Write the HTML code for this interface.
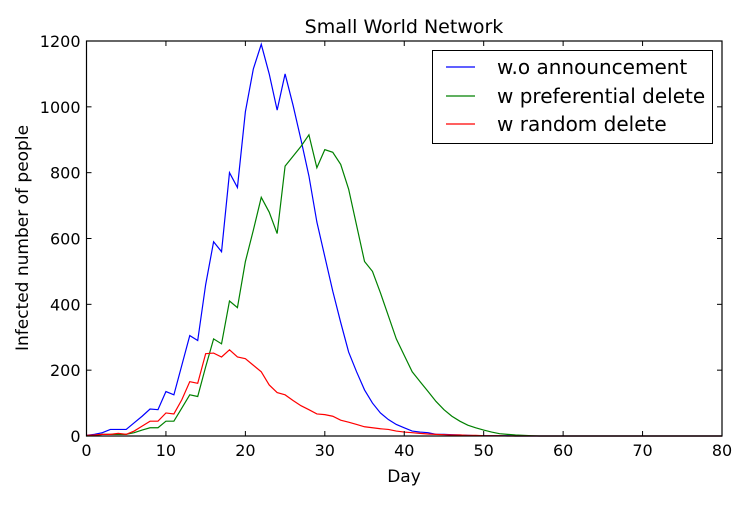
<!DOCTYPE html>
<html><head><meta charset="utf-8"><style>
html,body{margin:0;padding:0;background:#fff;}
svg text{font-family:"DejaVu Sans","Liberation Sans",sans-serif;fill:#000;}
</style></head><body>
<svg id="chart" width="750" height="500" xmlns="http://www.w3.org/2000/svg">
<rect width="750" height="500" fill="#fff"/>
<text x="404" y="33" font-size="19" text-anchor="middle">Small World Network</text>
<g id="plot"></g>
<text x="404" y="482" font-size="17" text-anchor="middle">Day</text>
<text transform="translate(28,238) rotate(-90)" font-size="17" text-anchor="middle">Infected number of people</text>
<g>
<rect x="432.5" y="50.5" width="280" height="93" fill="#fff" stroke="#000" stroke-width="1"/>
<g><line x1="446" y1="67" x2="475" y2="67" stroke="#0000ff" stroke-width="1.2"/><text x="497" y="74" font-size="20">w.o announcement</text></g>
<g><line x1="446" y1="96" x2="475" y2="96" stroke="#008000" stroke-width="1.2"/><text x="497" y="103" font-size="20">w preferential delete</text></g>
<g><line x1="446" y1="124" x2="475" y2="124" stroke="#ff0000" stroke-width="1.2"/><text x="497" y="131" font-size="20">w random delete</text></g>
</g>
</svg>
<script>
const xTicks=[0,10,20,30,40,50,60,70,80];
const yTicks=[0,200,400,600,800,1000,1200];
const blue=[2,5,10,20,20,20,40,60,82,80,135,125,215,305,290,460,590,560,800,755,985,1115,1190,1100,990,1100,1005,900,790,650,545,440,345,255,195,140,100,70,50,35,25,15,12,10,5,5,4,3,2,1,1,1,1,1,0,0,0,0,0,0,0,0,0,0,0,0,0,0,0,0,0,0,0,0,0,0,0,0,0,0,0];
const green=[0,2,5,5,5,5,10,18,25,25,45,45,85,125,120,210,295,280,410,390,530,625,725,680,615,820,850,880,915,815,870,862,825,750,640,530,500,435,365,295,245,195,165,135,105,80,60,45,33,25,18,12,7,5,3,2,1,0,0,0,0,0,0,0,0,0,0,0,0,0,0,0,0,0,0,0,0,0,0,0,0];
const red=[2,3,5,5,8,5,15,30,45,45,70,67,110,165,160,250,252,240,262,240,235,215,195,155,132,125,108,92,80,67,65,60,48,42,35,28,25,22,20,15,12,10,8,6,5,4,3,3,2,2,1,1,1,0,0,0,0,0,0,0,0,0,0,0,0,0,0,0,0,0,0,0,0,0,0,0,0,0,0,0,0];
const L=86.5,R=722,T=41,B=436;
const sx=v=>L+(v-0)/(80-0)*(R-L);
const sy=v=>B-(v-0)/(1200-0)*(B-T);
const NS='http://www.w3.org/2000/svg';
const g=document.getElementById('plot');
function mk(t,a){const e=document.createElementNS(NS,t);for(const k in a)e.setAttribute(k,a[k]);g.appendChild(e);return e;}
function series(d,c,n){
 const pts=d.map((v,i)=>sx(i).toFixed(2)+','+sy(v).toFixed(2)).join(' ');
 const p=mk('polyline',{points:pts,fill:'none',stroke:c,'stroke-width':1.2});
 
 
}
series(blue,'#0000ff','series-wo-announcement');
series(green,'#008000','series-preferential-delete');
series(red,'#ff0000','series-random-delete');
xTicks.forEach(v=>{
 const x=sx(v);
 const t1=mk('line',{x1:x,y1:B,x2:x,y2:B-5,stroke:'#000'});
 
 
 mk('line',{x1:x,y1:T,x2:x,y2:T+5,stroke:'#000'});
 const tx=mk('text',{x:x,y:B+20,'font-size':16,'text-anchor':'middle'});
 tx.textContent=v;
 
 
});
yTicks.forEach(v=>{
 const y=sy(v);
 const t1=mk('line',{x1:L,y1:y,x2:L+5,y2:y,stroke:'#000'});
 
 
 mk('line',{x1:R,y1:y,x2:R-5,y2:y,stroke:'#000'});
 const tx=mk('text',{x:L-6,y:y+6,'font-size':16,'text-anchor':'end'});
 tx.textContent=v;
 
 
});
const fr=mk('rect',{x:L,y:T,width:R-L,height:B-T,fill:'none',stroke:'#000','stroke-width':1.2});


</script>
</body></html>
